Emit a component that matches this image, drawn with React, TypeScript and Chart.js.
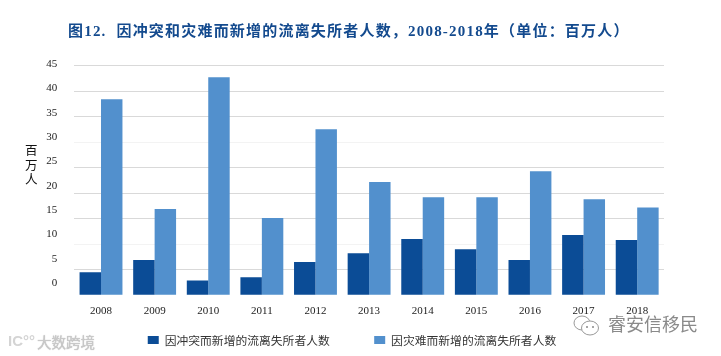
import React, { useEffect, useRef } from "react";
import { Chart, registerables } from "chart.js";

Chart.register(...registerables);

const categories = ["2008", "2009", "2010", "2011", "2012", "2013", "2014", "2015", "2016", "2017", "2018"];
const conflictValues = [4.5, 6.9, 2.9, 3.5, 6.5, 8.2, 11, 9, 6.9, 11.8, 10.8];
const disasterValues = [38.4, 16.9, 42.7, 15.1, 32.5, 22.2, 19.2, 19.2, 24.3, 18.8, 17.2];
const yTicks = [0, 5, 10, 15, 20, 25, 30, 35, 40, 45];
const fadedGridLines = [10, 30];
const seriesNames = ["因冲突而新增的流离失所者人数", "因灾难而新增的流离失所者人数"];
const titleText = "图12.  因冲突和灾难而新增的流离失所者人数，2008-2018年（单位：百万人）";
const yAxisTitle = ["百", "万", "人"];

const serif = '"Liberation Serif", "Noto Sans CJK SC", serif';
const DARK = "#0b4c96";
const LIGHT = "#5290cd";

export default function App() {
  const ref = useRef<HTMLCanvasElement>(null);
  useEffect(() => {
    document.body.style.margin = "0";
    const chart = new Chart(ref.current!, {
      type: "bar",
      data: {
        labels: categories,
        datasets: [
          { label: seriesNames[0], data: conflictValues, backgroundColor: DARK, yAxisID: "y" },
          { label: seriesNames[1], data: disasterValues, backgroundColor: LIGHT, yAxisID: "y" },
        ],
      },
      options: {
        animation: false,
        responsive: false,
        events: [],
        layout: { padding: { top: 63, right: 17, bottom: 0, left: 0 } },
        datasets: { bar: { categoryPercentage: 0.8, barPercentage: 1 } },
        plugins: {
          title: { display: false },
          tooltip: { enabled: false },
          legend: {
            position: "bottom",
            labels: {
              boxWidth: 11,
              boxHeight: 8,
              padding: 9,
              color: "#333",
              font: { family: '"Noto Sans CJK SC"', size: 11.8 },
              generateLabels: (c: any) =>
                c.data.datasets.map((d: any, i: number) => ({
                  text: i === 0 ? d.label + "\u3000\u3000\u3000" : d.label,
                  fillStyle: d.backgroundColor,
                  strokeStyle: d.backgroundColor,
                  lineWidth: 0,
                  datasetIndex: i,
                  fontColor: "#333",
                })),
            },
          },
        },
        scales: {
          x: {
            grid: { display: false, drawTicks: false },
            border: { display: false },
            ticks: { color: "#222", font: { family: serif, size: 11 }, padding: 9, maxRotation: 0 },
            afterFit: (s: any) => {
              s.height = 30;
            },
          },
          y: {
            position: "left",
            min: 0,
            max: 45.49,
            afterBuildTicks: (s: any) => {
              s.ticks = yTicks.map((value) => ({ value }));
            },
            grid: {
              drawTicks: false,
              lineWidth: 1,
              color: (c: any) =>
                c.tick?.value === 0
                  ? "rgba(0,0,0,0)"
                  : fadedGridLines.includes(c.tick?.value)
                    ? "#f3f3f3"
                    : "#d9d9d9",
            },
            border: { display: false },
            ticks: { display: false },
            afterFit: (s: any) => {
              s.width = 0;
            },
          },
          yLabels: {
            position: "left",
            min: -2.46,
            max: 45.18,
            afterBuildTicks: (s: any) => {
              s.ticks = yTicks.map((value) => ({ value }));
            },
            grid: { display: false },
            border: { display: false },
            ticks: { color: "#222", font: { family: serif, size: 11 }, padding: 9 },
            afterFit: (s: any) => {
              s.width = 74.2;
            },
          },
          rightGap: {
            position: "right",
            display: true,
            grid: { display: false },
            border: { display: false },
            ticks: { display: false },
            afterFit: (s: any) => {
              s.width = 40;
            },
          },
        },
      } as any,
    });
    return () => chart.destroy();
  }, []);

  return (
    <div style={{ position: "fixed", left: 0, top: 0, width: 721, height: 356, overflow: "hidden", background: "#fff" }}>
      <canvas ref={ref} width={721} height={356} style={{ position: "absolute", left: 0, top: 0 }} />
      <div
        style={{
          position: "absolute",
          left: 68,
          top: 21,
          whiteSpace: "pre",
          fontFamily: serif,
          fontWeight: 700,
          fontSize: 15,
          lineHeight: "20px",
          letterSpacing: 1.2,
          color: "#134a8e",
        }}
      >
        {titleText}
      </div>
      <div
        style={{
          position: "absolute",
          left: 25,
          top: 143,
          width: 13,
          fontFamily: '"Noto Sans CJK SC"',
          fontSize: 12.5,
          lineHeight: "14.5px",
          color: "#111",
        }}
      >
        {yAxisTitle.map((t) => (
          <div key={t}>{t}</div>
        ))}
      </div>
      <div
        style={{
          position: "absolute",
          left: 37,
          top: 332,
          fontFamily: '"Noto Sans CJK SC"',
          fontWeight: 400,
          fontSize: 14.5,
          lineHeight: "20px",
          color: "#c9c9c9",
          textShadow: "0 0 1px #aaa",
        }}
      >
        大数跨境
      </div>
      <div
        style={{
          position: "absolute",
          left: 8,
          top: 331,
          fontFamily: '"Liberation Sans"',
          fontWeight: 700,
          fontSize: 15,
          lineHeight: "20px",
          color: "#d4d4d4",
        }}
      >
        IC°°
      </div>
      <svg width={30} height={24} style={{ position: "absolute", left: 572, top: 314 }}>
        <ellipse cx={10} cy={9} rx={8} ry={7} fill="#fff" stroke="#999" />
        <ellipse cx={18} cy={14} rx={8.5} ry={7} fill="#fff" stroke="#999" />
        <circle cx={15} cy={13} r={1} fill="#888" />
        <circle cx={21} cy={13} r={1} fill="#888" />
      </svg>
      <div
        style={{
          position: "absolute",
          left: 608,
          top: 311,
          fontFamily: '"Noto Sans CJK SC"',
          fontSize: 18,
          lineHeight: "24px",
          color: "#8a8a8a",
          textShadow: "0 0 2px #fff",
          whiteSpace: "pre",
        }}
      >
        睿安信移民
      </div>
    </div>
  );
}
